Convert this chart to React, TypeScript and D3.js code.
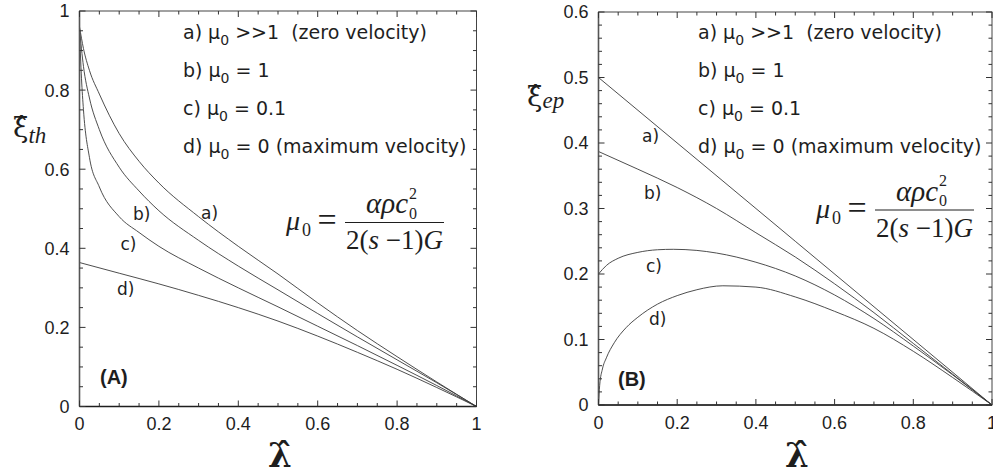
import React from 'react';
import * as d3 from 'd3';

// ---------- data ----------
const lambdaTicks = [0, 0.2, 0.4, 0.6, 0.8, 1];
const lambdaTickLabels = ['0', '0.2', '0.4', '0.6', '0.8', '1'];
const thTicks = [0, 0.2, 0.4, 0.6, 0.8, 1];
const thTickLabels = ['0', '0.2', '0.4', '0.6', '0.8', '1'];
const epTicks = [0, 0.1, 0.2, 0.3, 0.4, 0.5, 0.6];
const epTickLabels = ['0', '0.1', '0.2', '0.3', '0.4', '0.5', '0.6'];

const legendPrefixes = ['a) ', 'b) ', 'c) ', 'd) '];
const legendSuffixes = [' >>1  (zero velocity)', ' = 1', ' = 0.1', ' = 0 (maximum velocity)'];
const curveLabels = ['a)', 'b)', 'c)', 'd)'];

// Panel A : xi_th vs lambda
const thA_x = [0, 0.01, 0.025, 0.05, 0.1, 0.15, 0.2, 0.3, 0.4, 0.5, 0.6, 0.7, 0.8, 0.9, 1];
const thA_y = [0.96, 0.905, 0.85, 0.79, 0.69, 0.62, 0.565, 0.48, 0.405, 0.335, 0.262, 0.192, 0.126, 0.062, 0];
const thB_x = [0, 0.01, 0.025, 0.05, 0.1, 0.15, 0.2, 0.3, 0.4, 0.5, 0.6, 0.7, 0.8, 0.9, 1];
const thB_y = [0.955, 0.86, 0.78, 0.7, 0.605, 0.545, 0.495, 0.42, 0.355, 0.295, 0.235, 0.176, 0.118, 0.06, 0];
const thC_x = [0, 0.005, 0.01, 0.025, 0.05, 0.1, 0.15, 0.2, 0.3, 0.4, 0.5, 0.6, 0.7, 0.8, 0.9, 1];
const thC_y = [0.95, 0.83, 0.75, 0.63, 0.555, 0.48, 0.44, 0.405, 0.35, 0.3, 0.252, 0.203, 0.154, 0.104, 0.053, 0];
const thD_x = [0, 0.1, 0.2, 0.3, 0.4, 0.5, 0.6, 0.7, 0.8, 0.9, 1];
const thD_y = [0.364, 0.337, 0.31, 0.281, 0.25, 0.216, 0.178, 0.137, 0.094, 0.048, 0];

// Panel B : xi_ep vs lambda
const epA_x = [0, 0.5, 1];
const epA_y = [0.5, 0.25, 0];
const epB_x = [0, 0.1, 0.2, 0.3, 0.4, 0.5, 0.6, 0.7, 0.8, 0.9, 1];
const epB_y = [0.387, 0.36, 0.332, 0.3, 0.263, 0.226, 0.185, 0.141, 0.094, 0.047, 0];
const epC_x = [0, 0.02, 0.05, 0.1, 0.15, 0.19, 0.25, 0.3, 0.4, 0.5, 0.6, 0.7, 0.8, 0.9, 1];
const epC_y = [0.2, 0.213, 0.224, 0.233, 0.237, 0.2377, 0.236, 0.232, 0.218, 0.197, 0.168, 0.132, 0.09, 0.046, 0];
const epD_x = [0, 0.003, 0.01, 0.02, 0.04, 0.07, 0.1, 0.15, 0.2, 0.25, 0.316, 0.4, 0.5, 0.6, 0.7, 0.8, 0.9, 1];
const epD_y = [0, 0.03, 0.055, 0.072, 0.095, 0.118, 0.134, 0.154, 0.167, 0.176, 0.182, 0.18, 0.165, 0.143, 0.117, 0.082, 0.042, 0];

const zip = (xs: number[], ys: number[]) => xs.map((x, i) => [x, ys[i]] as [number, number]);

const SANS = 'Liberation Sans, Arial, Helvetica, sans-serif';
const LEG = 'DejaVu Sans, Verdana, sans-serif';
const SERIF = 'Liberation Serif, Times New Roman, serif';
const DSERIF = 'DejaVu Serif, Liberation Serif, serif';
const INK = '#1e1e1e';

type PanelProps = {
  xs: d3.ScaleLinear<number, number>;
  ys: d3.ScaleLinear<number, number>;
  yTicks: number[];
  yLabels: string[];
  yMinorStep: number;
  yMajorStep: number;
  series: [number, number][][];
  labelPos: [number, number][];
  legendX: number;
  fdx: number;
  fdy: number;
  panelLabel: string;
  panelLabelPos: [number, number];
  titleSub: string;
  titleXi: [number, number];
  subDy: number;
  lambdaX: number;
  xLabelY: number;
};

const isMult = (v: number, step: number) => Math.abs(v / step - Math.round(v / step)) < 1e-6;

function Panel(p: PanelProps) {
  const { xs, ys } = p;
  const [x0, x1] = xs.range();
  const [y0, y1] = ys.range();
  const xDom = xs.domain();
  const yDom = ys.domain();
  const xMinor = d3.range(xDom[0], xDom[1] + 1e-9, 0.05);
  const yMinor = d3.range(yDom[0], yDom[1] + 1e-9, p.yMinorStep);
  const line = d3
    .line<[number, number]>()
    .x((d) => xs(d[0]))
    .y((d) => ys(d[1]))
    .curve(d3.curveMonotoneX);
  const MJ = 6;
  const MN = 3.5;
  return (
    <g>
      {p.series.map((s, i) => (
        <path key={'c' + i} d={line(s) || ''} fill="none" stroke="#3a3a3a" strokeWidth={0.9} />
      ))}
      <rect x={x0} y={y1} width={x1 - x0} height={y0 - y1} fill="none" stroke="#444" strokeWidth={1} />
      <line x1={x0} x2={x1} y1={y0} y2={y0} stroke={INK} strokeWidth={1.6} />
      <line x1={x0} x2={x0} y1={y0} y2={y1} stroke="#555" strokeWidth={1.6} />
      {xMinor.map((v, i) => {
        const L = isMult(v, 0.2) ? MJ : MN;
        const X = xs(v);
        return (
          <g key={'xt' + i}>
            <line x1={X} x2={X} y1={y0} y2={y0 - L} stroke="#333" strokeWidth={1} />
            <line x1={X} x2={X} y1={y1} y2={y1 + L} stroke="#333" strokeWidth={1} />
          </g>
        );
      })}
      {yMinor.map((v, i) => {
        const L = isMult(v, p.yMajorStep) ? MJ : MN;
        const Y = ys(v);
        return (
          <g key={'yt' + i}>
            <line x1={x0} x2={x0 + L} y1={Y} y2={Y} stroke="#333" strokeWidth={1} />
            <line x1={x1} x2={x1 - L} y1={Y} y2={Y} stroke="#333" strokeWidth={1} />
          </g>
        );
      })}
      {lambdaTicks.map((v, i) => (
        <text key={'xl' + i} x={xs(v)} y={p.xLabelY} textAnchor="middle" fontFamily={SANS} fontSize={18} fill={INK}>
          {lambdaTickLabels[i]}
        </text>
      ))}
      {p.yTicks.map((v, i) => (
        <text key={'yl' + i} x={x0 - 10} y={ys(v)} dy="0.36em" textAnchor="end" fontFamily={SANS} fontSize={18} fill={INK}>
          {p.yLabels[i]}
        </text>
      ))}
      {curveLabels.map((t, i) => (
        <text key={'cl' + i} x={p.labelPos[i][0]} y={p.labelPos[i][1]} fontFamily={LEG} fontSize={17} fill={INK}>
          {t}
        </text>
      ))}
      {legendPrefixes.map((pre, i) => (
        <text key={'lg' + i} x={p.legendX} y={38.5 + i * 38.3} fontFamily={LEG} fontSize={19} fill={INK} xmlSpace="preserve">
          {pre}μ
          <tspan fontSize={14} dy={6}>0</tspan>
          <tspan dy={-6}>{legendSuffixes[i]}</tspan>
        </text>
      ))}
      <g transform={`translate(${p.fdx},${p.fdy})`} fill={INK} fontFamily={SERIF}>
        <text x={286} y={230} fontSize={28} fontStyle="italic">
          μ<tspan x={302} y={236} fontSize={18} fontStyle="normal">0</tspan>
        </text>
        <text x={327} y={231} fontSize={34} textAnchor="middle">=</text>
        <line x1={345} x2={444} y1={222.5} y2={222.5} stroke={INK} strokeWidth={1} />
        <text x={366} y={213} fontSize={29} fontStyle="italic">
          αρc
          <tspan x={409} y={198.5} fontSize={16} fontStyle="normal">2</tspan>
          <tspan x={409} y={218.5} fontSize={16} fontStyle="normal">0</tspan>
        </text>
        <text x={394.5} y={249} fontSize={27} textAnchor="middle">
          2(<tspan fontStyle="italic">s</tspan> −1)<tspan fontStyle="italic">G</tspan>
        </text>
      </g>
      <text x={p.panelLabelPos[0]} y={p.panelLabelPos[1]} fontFamily={SANS} fontWeight="bold" fontSize={20} fill={INK}>
        {p.panelLabel}
      </text>
      <text x={p.titleXi[0]} y={p.titleXi[1]} fontFamily={DSERIF} fontSize={28} fill={INK}>
        {'\u03BE\u0302'}
        <tspan fontFamily={SERIF} fontStyle="italic" fontSize={23} dy={p.subDy}>{p.titleSub}</tspan>
      </text>
      <text x={p.lambdaX} y={467} textAnchor="middle" fontFamily={DSERIF} fontWeight="bold" fontSize={34} fill={INK}>
        {'\u03BB\u0302'}
      </text>
    </g>
  );
}

export default function App() {
  const xsL = d3.scaleLinear().domain([0, 1]).range([79.5, 476.5]);
  const ysL = d3.scaleLinear().domain([0, 1]).range([406.5, 11]);
  const xsR = d3.scaleLinear().domain([0, 1]).range([598.5, 992]);
  const ysR = d3.scaleLinear().domain([0, 0.6]).range([405, 12]);

  const seriesL = [zip(thA_x, thA_y), zip(thB_x, thB_y), zip(thC_x, thC_y), zip(thD_x, thD_y)];
  const seriesR = [zip(epA_x, epA_y), zip(epB_x, epB_y), zip(epC_x, epC_y), zip(epD_x, epD_y)];

  return (
    <svg
      width={993}
      height={476}
      viewBox="0 0 993 476"
      style={{ position: 'absolute', left: 0, top: 0, background: '#fff', display: 'block' }}
    >
      <rect x={0} y={0} width={993} height={476} fill="#fff" />
      <Panel
        xs={xsL}
        ys={ysL}
        yTicks={thTicks}
        yLabels={thTickLabels}
        yMinorStep={0.05}
        yMajorStep={0.2}
        series={seriesL}
        labelPos={[[201, 219], [133, 220], [120.5, 250], [117, 295]]}
        legendX={183}
        fdx={0}
        fdy={0}
        panelLabel="(A)"
        panelLabelPos={[100, 384]}
        titleSub="th"
        titleXi={[13, 137]}
        subDy={6}
        lambdaX={280}
        xLabelY={430}
      />
      <Panel
        xs={xsR}
        ys={ysR}
        yTicks={epTicks}
        yLabels={epTickLabels}
        yMinorStep={0.02}
        yMajorStep={0.1}
        series={seriesR}
        labelPos={[[642, 142], [644, 199], [646, 272], [649, 325]]}
        legendX={698}
        fdx={530}
        fdy={-12.5}
        panelLabel="(B)"
        panelLabelPos={[618, 386]}
        titleSub="ep"
        titleXi={[527, 106]}
        subDy={1.5}
        lambdaX={797}
        xLabelY={429}
      />
    </svg>
  );
}
